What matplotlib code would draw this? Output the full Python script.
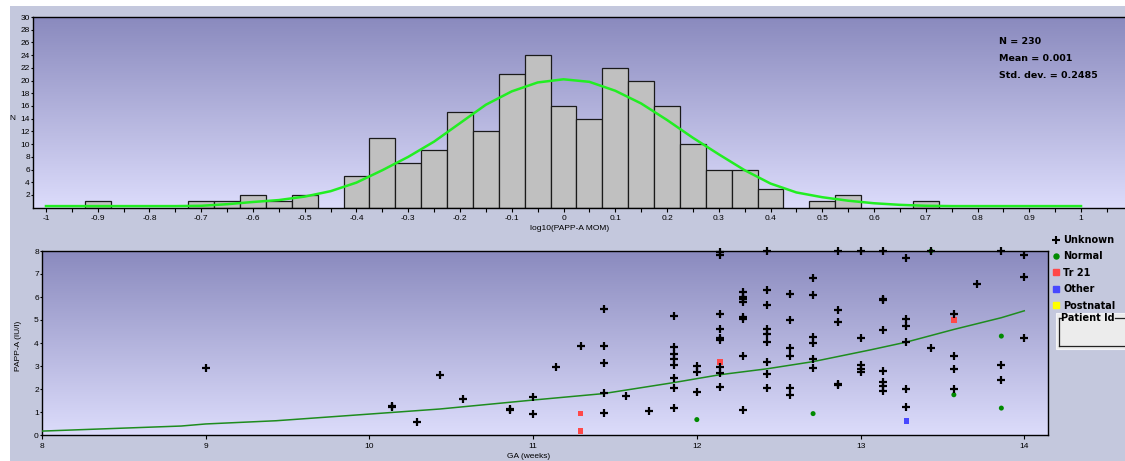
import numpy as np
import matplotlib
matplotlib.use("Agg")
import matplotlib.pyplot as plt
from matplotlib.patches import Rectangle
from matplotlib.lines import Line2D
from matplotlib.ticker import MultipleLocator, FuncFormatter

# ---------------- data ----------------
bin_centers = [-0.9, -0.7, -0.65, -0.6, -0.55, -0.5, -0.4, -0.35, -0.3, -0.25, -0.2,
               -0.15, -0.1, -0.05, 0.0, 0.05, 0.1, 0.15, 0.2, 0.25, 0.3, 0.35, 0.4,
               0.5, 0.55, 0.7]
bin_counts = [1, 1, 1, 2, 1, 2, 5, 11, 7, 9, 15, 12, 21, 24, 16, 14, 22, 20, 16, 10,
              6, 6, 3, 1, 2, 1]
bin_width = 0.05

fit_x = [-1.0, -0.95, -0.9, -0.85, -0.8, -0.75, -0.7, -0.65, -0.6, -0.55, -0.5, -0.45,
         -0.4, -0.35, -0.3, -0.25, -0.2, -0.15, -0.1, -0.05, 0.0, 0.05, 0.1, 0.15, 0.2,
         0.25, 0.3, 0.35, 0.4, 0.45, 0.5, 0.55, 0.6, 0.65, 0.7, 0.75, 0.8, 0.85, 0.9,
         0.95, 1.0]
fit_y = [0.25, 0.25, 0.25, 0.25, 0.25, 0.25, 0.3, 0.55, 0.9, 1.2, 1.75, 2.6,
         3.95, 5.9, 8.0, 10.4, 13.3, 16.2, 18.3, 19.7, 20.2, 19.8, 18.4, 16.4, 13.8,
         11.0, 8.4, 5.9, 3.8, 2.4, 1.65, 1.1, 0.7, 0.45, 0.3, 0.25, 0.25, 0.25, 0.25,
         0.25, 0.25]

stats_lines = ["N = 230", "Mean = 0.001", "Std. dev. = 0.2485"]

unknown_x = [9.0, 10.14, 10.14, 10.29, 10.43, 10.57, 10.86, 10.86, 11.0, 11.0, 11.14, 11.29,
             11.43, 11.43, 11.43, 11.43, 11.43, 11.57, 11.71,
             11.86, 11.86, 11.86, 11.86, 11.86, 11.86, 11.86, 11.86,
             12.0, 12.0, 12.0,
             12.14, 12.14, 12.14, 12.14, 12.14, 12.14, 12.14, 12.14, 12.14,
             12.28, 12.28, 12.28, 12.28, 12.28, 12.28, 12.28, 12.28,
             12.43, 12.43, 12.43, 12.43, 12.43, 12.43, 12.43, 12.43, 12.43,
             12.57, 12.57, 12.57, 12.57, 12.57, 12.57,
             12.71, 12.71, 12.71, 12.71, 12.71, 12.71,
             12.86, 12.86, 12.86, 12.86, 12.86,
             13.0, 13.0, 13.0, 13.0, 13.0,
             13.14, 13.14, 13.14, 13.14, 13.14, 13.14, 13.14, 13.14,
             13.28, 13.28, 13.28, 13.28, 13.28, 13.28,
             13.43, 13.43,
             13.57, 13.57, 13.57, 13.57,
             13.71,
             13.86, 13.86, 13.86,
             14.0, 14.0, 14.0]
unknown_y = [2.9, 1.22, 1.28, 0.55, 2.61, 1.57, 1.08, 1.13, 1.67, 0.91, 2.94, 3.86,
             5.48, 3.86, 3.12, 1.83, 0.94, 1.71, 1.04,
             5.16, 3.83, 3.51, 3.30, 3.03, 2.48, 2.06, 1.16,
             3.0, 2.75, 1.86,
             7.97, 7.83, 5.28, 4.62, 4.22, 4.15, 2.94, 2.71, 2.09,
             6.23, 6.01, 5.90, 5.78, 5.12, 5.06, 3.42, 1.09,
             7.99, 6.32, 5.64, 4.59, 4.38, 4.03, 3.16, 2.65, 2.04,
             6.14, 5.01, 3.78, 3.42, 2.06, 1.74,
             6.84, 6.07, 4.26, 3.99, 3.29, 2.91,
             7.99, 5.42, 4.91, 2.22, 2.17,
             7.99, 4.22, 3.06, 2.88, 2.74,
             7.99, 5.93, 5.88, 4.58, 2.77, 2.32, 2.13, 1.93,
             7.71, 5.04, 4.75, 4.04, 2.0, 1.20,
             7.99, 3.78,
             5.28, 3.45, 2.87, 2.0,
             6.55,
             7.99, 3.06, 2.41,
             7.81, 6.87, 4.22]

normal_x = [12.0, 12.71, 13.43, 13.57, 13.86, 13.86]
normal_y = [0.67, 0.93, 8.0, 1.75, 4.30, 1.17]

tr21_x = [11.29, 11.29, 12.14, 13.57]
tr21_y = [0.93, 0.16, 3.17, 4.99]

other_x = [13.28]
other_y = [0.62]

postnatal_x = []
postnatal_y = []

median_x = [8.0, 8.85, 9.0, 9.43, 10.0, 10.43, 11.0, 11.43, 11.86, 12.14, 12.43,
            12.71, 13.06, 13.28, 13.57, 13.86, 14.0]
median_y = [0.17, 0.39, 0.48, 0.62, 0.91, 1.13, 1.52, 1.80, 2.28, 2.62, 2.88,
            3.19, 3.70, 4.04, 4.59, 5.10, 5.40]

legend_labels = ["Unknown", "Normal", "Tr 21", "Other", "Postnatal"]

# ---------------- layout helpers ----------------
W, H = 1125, 461
fig = plt.figure(figsize=(W / 100, H / 100), dpi=100, facecolor="white")


def fx(px):
    return px / W


def fy(py):
    return 1 - py / H


panel_col = "#c4c8dd"
fig.add_artist(Rectangle((fx(10), 0), 1 - fx(10), fy(6), transform=fig.transFigure,
                         facecolor=panel_col, edgecolor="none", zorder=0))

top_c = np.array([138, 138, 190]) / 255
bot_c = np.array([220, 220, 251]) / 255
grad = np.linspace(0, 1, 256)[:, None, None]
grad_img = top_c[None, None, :] * (1 - grad) + bot_c[None, None, :] * grad

tick_font = dict(family="Liberation Sans", size=6)


def add_bg(ax):
    ax.imshow(grad_img, extent=(0, 1, 0, 1), transform=ax.transAxes, aspect="auto",
              origin="upper", zorder=-10, interpolation="bilinear")


# ---------------- histogram ----------------
ax1 = fig.add_axes([fx(33), fy(207.7), fx(1125) - fx(33), fy(17) - fy(207.7)])
add_bg(ax1)
ax1.bar(bin_centers, bin_counts, width=bin_width, color="#c0c0c0", edgecolor="#1a1a1a",
        linewidth=0.9, zorder=2)
ax1.plot(fit_x, fit_y, color="#22ee22", linewidth=1.8, zorder=3)
ax1.set_xlim(-1.0251, 1.085)
ax1.set_ylim(0, 30)
ax1.set_facecolor("none")
for s in ["left", "top", "bottom"]:
    ax1.spines[s].set_color("black")
    ax1.spines[s].set_linewidth(1.0)
ax1.spines["right"].set_visible(False)
ax1.xaxis.set_major_locator(MultipleLocator(0.1))
ax1.xaxis.set_minor_locator(MultipleLocator(0.05))
ax1.xaxis.set_major_formatter(FuncFormatter(lambda v, p: "%g" % round(v, 2)))
ax1.set_yticks(list(range(2, 31, 2)))
ax1.tick_params(axis="x", which="both", direction="out", length=3, width=0.8, pad=2,
                labelsize=6, colors="black")
ax1.tick_params(axis="y", direction="out", length=1.5, width=0.8, pad=0.8, labelsize=6)
for lab in ax1.get_xticklabels() + ax1.get_yticklabels():
    lab.set_family("Liberation Sans")
ax1.set_xlabel("log10(PAPP-A MOM)", fontdict=tick_font, va="center")
ax1.xaxis.set_label_coords((570 - 33) / 1092, -(229 - 207.7) / 190.7)
ax1.set_ylabel("N", fontdict=tick_font, rotation=0, va="center", ha="center")
ax1.yaxis.set_label_coords((12 - 33) / 1092, (207.7 - 118) / 190.7)

for i, line in enumerate(stats_lines):
    fig.text(fx(999), fy(42 + 16.5 * i), line, fontsize=6.8, fontweight="bold",
             family="DejaVu Sans", va="center", ha="left")

# ---------------- scatter ----------------
ax2 = fig.add_axes([fx(42), fy(435), fx(1048) - fx(42), fy(251) - fy(435)])
add_bg(ax2)
ax2.set_facecolor("none")
ax2.plot(median_x, median_y, color="#1e8c1e", linewidth=1.1, zorder=3)
groups = [
    (normal_x, normal_y, "o", 13, "#008a00"),
    (tr21_x, tr21_y, "s", 17, "#ff4848"),
    (other_x, other_y, "s", 17, "#4848ff"),
    (postnatal_x, postnatal_y, "s", 17, "#ffff00"),
]
for gx, gy, mk, sz, col in groups:
    if len(gx):
        ax2.scatter(gx, gy, marker=mk, s=sz, color=col, edgecolors="none",
                    zorder=4, clip_on=False)
ax2.scatter(unknown_x, unknown_y, marker="+", s=38, color="black", linewidths=1.6,
            zorder=5, clip_on=False)
ax2.set_xlim(8, 14.145)
ax2.set_ylim(0, 8)
for s in ax2.spines.values():
    s.set_color("black")
    s.set_linewidth(1.0)
ax2.set_xticks([8, 9, 10, 11, 12, 13, 14])
ax2.set_yticks(list(range(0, 9)))
ax2.tick_params(axis="x", direction="out", length=3, width=0.8, pad=2.5, labelsize=6)
ax2.tick_params(axis="y", direction="out", length=1.5, width=0.8, pad=0.8, labelsize=6)
for lab in ax2.get_xticklabels() + ax2.get_yticklabels():
    lab.set_family("Liberation Sans")
ax2.set_xlabel("GA (weeks)", fontdict=tick_font, va="center")
ax2.xaxis.set_label_coords((529 - 42) / 1006, -(456 - 435) / 184)
ax2.set_ylabel("PAPP-A (IU/l)", fontdict=tick_font, va="center")
ax2.yaxis.set_label_coords((18 - 42) / 1006, (435 - 346) / 184)

# ---------------- legend ----------------
handles = [
    Line2D([], [], linestyle="none", marker="+", color="black", markersize=6, markeredgewidth=1.5),
    Line2D([], [], linestyle="none", marker="o", color="#008a00", markersize=3.6),
    Line2D([], [], linestyle="none", marker="s", color="#ff4848", markersize=4),
    Line2D([], [], linestyle="none", marker="s", color="#4848ff", markersize=4),
    Line2D([], [], linestyle="none", marker="s", color="#ffff00", markersize=4),
]
leg = fig.legend(handles, legend_labels, loc="upper left", bbox_to_anchor=(fx(1053), fy(235)),
                 bbox_transform=fig.transFigure, frameon=False, handlelength=0.7,
                 handletextpad=0.35, labelspacing=0.66, borderpad=0, borderaxespad=0,
                 prop=dict(family="DejaVu Sans", weight="bold", size=7))

# Patient Id group box
fig.add_artist(Rectangle((fx(1056), fy(349)), fx(1125) - fx(1056), fy(313) - fy(349),
                         transform=fig.transFigure, facecolor="#ececec",
                         edgecolor="#f4f4f8", linewidth=0.8, zorder=2))
gb = dict(transform=fig.transFigure, color="#222222", linewidth=0.9, zorder=3)
fig.add_artist(Line2D([fx(1059), fx(1059)], [fy(318), fy(346)], **gb))
fig.add_artist(Line2D([fx(1059), fx(1125)], [fy(346), fy(346)], **gb))
fig.add_artist(Line2D([fx(1059), fx(1061)], [fy(318), fy(318)], **gb))
fig.add_artist(Line2D([fx(1115), fx(1125)], [fy(318), fy(318)], **gb))
fig.text(fx(1061), fy(318), "Patient Id", fontsize=7, fontweight="bold",
         family="DejaVu Sans", va="center", ha="left", zorder=4)

fig.savefig("out.png", dpi=100, facecolor="white")
